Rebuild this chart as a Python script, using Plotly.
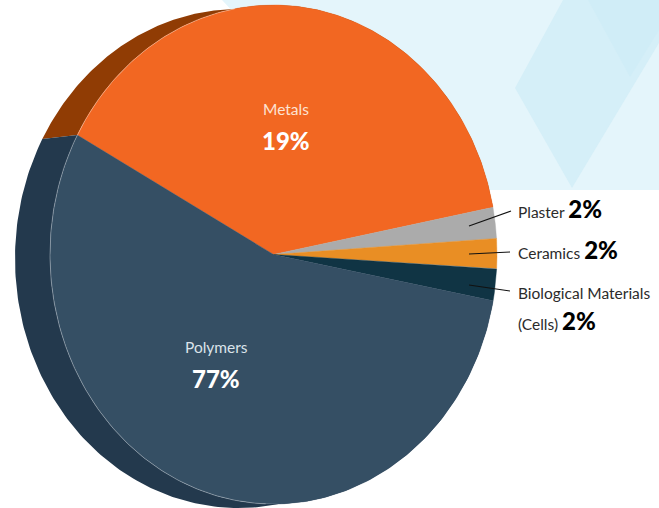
import numpy as np
import plotly.graph_objects as go

# Slices in clockwise drawing order; sweeps are the angles as drawn (deg), labels are the printed shares
categories = ["Metals", "Plaster", "Ceramics", "Biological Materials", "Polymers"]
drawn_sweep = [140.5, 7.2, 6.9, 7.5, 197.9]
printed_percent = [19, 2, 2, 2, 77]
face_colors = ["#f26722", "#ababab", "#e98e24", "#103444", "#354f64"]
side_colors = {"Metals": "#903c04", "Polymers": "#23394d"}

START = 151.4
CX, CY, RX, RY = 273.5, 254.5, 223.5, 249.5
SX, SY = -35, 4
FONT = "Lato"


def arc(t0, t1, dx=0, dy=0):
    t = np.radians(np.linspace(t0, t1, 200))
    return CX + dx + RX * np.cos(t), CY + dy - RY * np.sin(t)


def wedge(t0, t1):
    x, y = arc(t0, t1)
    return (np.r_[CX, x, CX], np.r_[CY, y, CY])


def side(t0, t1):
    xo, yo = arc(t0, t1, SX, SY)
    xi, yi = arc(t0, t1)
    return (np.r_[xo, xi[::-1], xo[0]], np.r_[yo, yi[::-1], yo[0]])


fig = go.Figure()

# 3-D side of the disc: each piece runs between the shifted rim and the face rim
t = START
for name, sweep in zip(categories, drawn_sweep):
    if name in side_colors:
        x, y = side(t, t - sweep)
        fig.add_trace(go.Scatter(x=x, y=y, mode="lines", fill="toself", fillcolor=side_colors[name],
                                 line=dict(width=0), hoverinfo="skip"))
    t -= sweep

# Top face
t = START
for name, sweep, color in zip(categories, drawn_sweep, face_colors):
    x, y = wedge(t, t - sweep)
    fig.add_trace(go.Scatter(x=x, y=y, mode="lines", fill="toself", fillcolor=color,
                             line=dict(width=0.4, color=color), hoverinfo="skip"))
    t -= sweep

# Thin seam on the edge of the face
x, y = arc(100, 268)
fig.add_trace(go.Scatter(x=x, y=y, mode="lines", line=dict(width=0.7, color="rgba(255,255,255,0.45)"),
                         hoverinfo="skip"))

# Leaders for the three small slices
leaders = {"Plaster": ((469, 511), (226, 211)),
           "Ceramics": ((469, 510), (254, 252)),
           "Biological Materials": ((469, 510), (285, 291))}
for name, (lx, ly) in leaders.items():
    fig.add_trace(go.Scatter(x=list(lx), y=list(ly), mode="lines", line=dict(width=1.1, color="#111111"),
                             hoverinfo="skip"))


def pct(i, color, size=24):
    return f"<b><span style='font-size:{size}px;font-weight:900;color:{color}'>{printed_percent[i]}%</span></b>"


notes = [
    (286, 109, "center", f"<span style='color:#fde3d3'>{categories[0]}</span>"),
    (286, 140, "center", pct(0, "#ffffff")),
    (216, 347, "center", f"<span style='color:#dbe3ea'>{categories[4]}</span>"),
    (216, 378, "center", pct(4, "#ffffff")),
    (516, 208, "left", f"{categories[1]} {pct(1, '#000000')}"),
    (516, 249, "left", f"{categories[2]} {pct(2, '#000000')}"),
    (516, 293, "left", categories[3]),
    (516, 320, "left", f"(Cells) {pct(3, '#000000')}"),
]
for x, y, anchor, text in notes:
    fig.add_annotation(x=x, y=y, text=text, showarrow=False, xanchor=anchor, yanchor="middle",
                       font=dict(family=FONT, size=15.5, color="#2b2b2b"))

# Pale decorative background
bg = [
    ("M 222 0 L 659 0 L 659 190 L 400 190 Z", "#e4f5fb"),
    ("M 515 88 L 563 0 L 659 0 L 659 43 L 572 188 Z", "#d5eff8"),
    ("M 588 0 L 630 77 L 659 30 L 659 0 Z", "#d0edf7"),
]
fig.update_layout(
    shapes=[dict(type="path", path=p, fillcolor=c, line=dict(width=0), layer="below") for p, c in bg],
    width=659, height=508, margin=dict(l=0, r=0, t=0, b=0), showlegend=False,
    paper_bgcolor="white", plot_bgcolor="white",
    xaxis=dict(range=[0, 659], visible=False, fixedrange=True),
    yaxis=dict(range=[508, 0], visible=False, fixedrange=True),
)
fig.write_html("out.html", config={"displayModeBar": False},
               post_script="document.body.style.margin='0';document.body.style.overflow='hidden';")
